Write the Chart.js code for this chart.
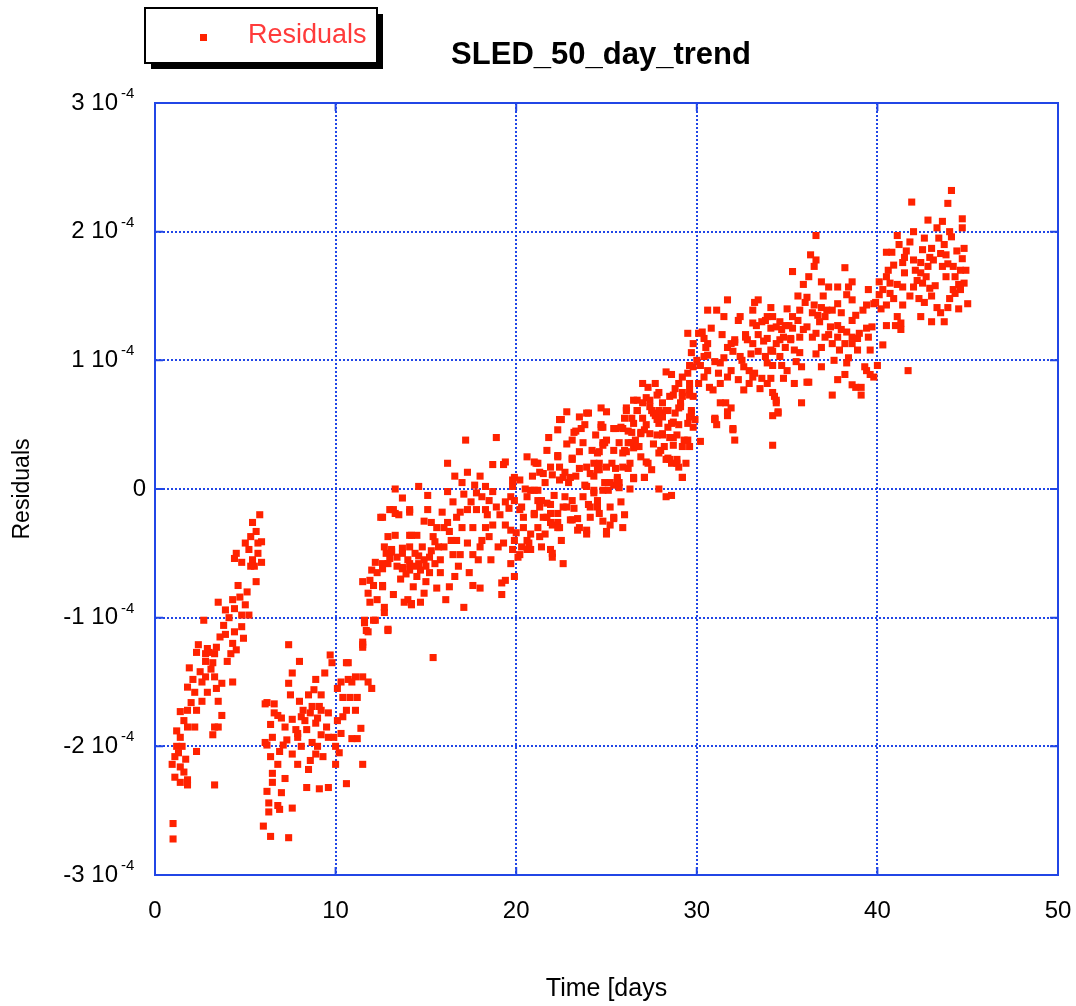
<!DOCTYPE html>
<html>
<head>
<meta charset="utf-8">
<script src="https://cdn.jsdelivr.net/npm/chart.js@4.4.0/dist/chart.umd.min.js"></script>
<style>
body{margin:0;background:#fff}
#wrap{width:1076px;height:1006px;position:relative}
</style>
</head>
<body>
<div id="wrap"><canvas id="mycanvas"></canvas></div>
<script>
// residuals in units of 1e-4, time in days
var dayTicks = [0, 10, 20, 30, 40, 50];
var residualTicks = [-3, -2, -1, 0, 1, 2, 3];
var residualBase = ['-3 10', '-2 10', '-1 10', '0', '1 10', '2 10', '3 10'];
var residualExp = ['-4', '-4', '-4', '', '-4', '-4', '-4'];

var block1 = [
[5.8,-0.2],[5.4,-0.26],[5.6,-0.33],[5.3,-0.37],[5.9,-0.41],[5.0,-0.42],[4.5,-0.5],[4.4,-0.54],[4.8,-0.57],[5.4,-0.55],[5.9,-0.57],[5.5,-0.6],[5.7,-0.5],[5.2,-0.47],[5.6,-0.72],[5.1,-0.8],[4.7,-0.84],[4.3,-0.86],[3.5,-0.88],[3.9,-0.94],[4.4,-0.93],[5.0,-0.9],[5.2,-0.98],[4.8,-0.98],[2.7,-1.02],[3.8,-1.06],[4.8,-1.07],[4.4,-1.11],[3.9,-1.13],[3.6,-1.15],[4.9,-1.16],[4.3,-1.2],[2.4,-1.21],[2.9,-1.24],[3.4,-1.23],[4.5,-1.25],[2.3,-1.27],[2.8,-1.28],[3.3,-1.28],[4.2,-1.28],[3.0,-1.27],[2.8,-1.34],[4.0,-1.34],[1.9,-1.39],[2.5,-1.42],[2.8,-1.46],[3.3,-1.46],[2.6,-1.5],[3.7,-1.51],[4.3,-1.5],[1.8,-1.54],[2.2,-1.58],[2.9,-1.58],[3.4,-1.55],[2.6,-1.65],[3.5,-1.65],[2.0,-1.66],[2.3,-1.72],[1.4,-1.73],[1.8,-1.72],[3.7,-1.76],[1.8,-1.85],[2.2,-1.85],[3.3,-1.85],[3.5,-1.85],[3.2,-1.91],[1.2,-1.88],[1.4,-1.93],[1.2,-2.0],[1.5,-2.0],[2.3,-2.04],[1.3,-2.05],[0.95,-2.14],[1.4,-2.16],[1.6,-2.2],[1.1,-2.24],[1.8,-2.26],[1.4,-2.28],[3.3,-2.3],[1.8,-2.3],[1.0,-2.6],[1.0,-2.72],[3.1,-1.4],[2.1,-1.48],[1.6,-1.8],[1.1,-2.08],[1.7,-2.1],[4.6,-0.75],[4.1,-1.0],[3.2,-1.35],[5.7,-0.42],[5.3,-0.6]
];

var block2 = [
[7.4,-1.21],[8.0,-1.34],[7.6,-1.43],[7.4,-1.51],[6.1,-1.67],[6.6,-1.67],[7.5,-1.6],[8.0,-1.65],[8.7,-1.69],[8.9,-1.48],[9.4,-1.43],[9.7,-1.29],[9.8,-1.35],[9.2,-1.6],[9.1,-1.69],[9.6,-1.74],[6.6,-1.74],[7.0,-1.78],[6.4,-1.83],[7.6,-1.79],[8.1,-1.77],[8.6,-1.74],[7.8,-1.87],[8.4,-1.87],[8.9,-1.82],[9.2,-1.91],[7.9,-1.93],[6.5,-1.93],[6.2,-1.99],[7.1,-1.99],[8.7,-1.97],[9.0,-2.0],[9.6,-1.93],[8.1,-2.0],[7.6,-2.06],[6.9,-2.04],[6.4,-2.08],[6.8,-2.14],[7.9,-2.14],[8.6,-2.11],[8.5,-2.18],[8.9,-2.06],[9.3,-2.08],[10.0,-2.0],[10.2,-2.05],[10.0,-2.14],[6.5,-2.21],[7.2,-2.25],[6.5,-2.28],[6.2,-2.35],[7.0,-2.36],[8.4,-2.32],[9.1,-2.33],[9.6,-2.32],[6.3,-2.44],[6.3,-2.51],[6.9,-2.49],[7.6,-2.48],[10.6,-2.29],[11.5,-2.14],[10.9,-1.94],[11.2,-1.94],[11.4,-1.86],[10.4,-1.77],[10.6,-1.72],[11.1,-1.72],[11.2,-1.62],[10.4,-1.62],[10.7,-1.48],[10.3,-1.5],[10.1,-1.55],[11.1,-1.46],[10.9,-1.5],[11.8,-1.5],[12.0,-1.55],[10.7,-1.35],[11.5,-1.46],[6.0,-2.62],[6.4,-2.7],[7.4,-2.71],[6.8,-2.46],[10.6,-1.35],[8.8,-1.56],[9.2,-1.72],[6.2,-1.66],[6.8,-1.76],[8.2,-1.72],[7.9,-1.9],[9.9,-1.93],[6.1,-1.97],[7.3,-1.95],[8.3,-1.8],[9.5,-1.85],[10.3,-1.9],[10.8,-1.62],[8.5,-1.6],[7.2,-1.85],[9.0,-1.78],[10.1,-1.8]
];

var block3 = [
[11.6,-1.02],[11.7,-1.1],[11.5,-1.21],[12.1,-1.02],[12.9,-1.1],[11.9,-0.88],[12.3,-0.86],[12.7,-0.96],[11.5,-0.72],[11.8,-0.81],[12.1,-0.75],[12.6,-0.75],[12.0,-0.63],[12.3,-0.65],[12.2,-0.57],[12.6,-0.58],[13.0,-0.54],[13.1,-0.47],[13.4,-0.53],[13.7,-0.61],[14.1,-0.58],[14.6,-0.58],[14.9,-0.55],[15.2,-0.53],[15.5,-0.58],[15.8,-0.55],[14.7,-0.63],[15.2,-0.65],[14.1,-0.45],[14.8,-0.45],[14.4,-0.5],[13.7,-0.46],[14.2,-0.36],[14.5,-0.36],[12.9,-0.37],[13.3,-0.36],[12.5,-0.22],[13.2,-0.16],[13.5,-0.2],[14.1,-0.16],[13.7,-0.07],[13.3,0.0],[14.6,0.02],[15.1,-0.16],[15.9,-0.18],[16.2,-0.02],[16.2,0.2],[17.2,0.38],[18.9,0.4],[17.3,0.13],[17.1,-0.04],[15.3,-0.26],[15.4,-0.37],[15.5,-0.41],[16.2,-0.26],[16.3,-0.33],[16.7,-0.22],[17.0,-0.3],[16.7,-0.4],[16.5,-0.51],[16.9,-0.51],[17.6,-0.51],[17.3,-0.42],[17.3,-0.16],[17.8,-0.16],[17.6,-0.3],[18.1,-0.4],[18.0,-0.45],[18.3,-0.3],[18.5,-0.37],[18.7,-0.28],[19.1,-0.2],[19.4,-0.28],[18.9,-0.14],[18.5,-0.09],[18.1,-0.06],[18.3,-0.16],[17.8,-0.03],[17.7,0.03],[18.3,0.02],[18.7,-0.02],[19.4,-0.1],[19.7,-0.06],[19.8,0.02],[19.3,0.19],[18.7,0.19],[19.4,0.21],[19.8,0.07],[15.4,-1.31],[14.0,-0.86],[14.2,-0.89],[14.7,-0.88],[17.1,-0.92],[14.3,-0.76],[14.9,-0.81],[15.6,-0.77],[16.1,-0.86],[16.3,-0.76],[16.6,-0.68],[17.6,-0.75],[18.0,-0.77],[19.2,-0.73],[19.2,-0.82],[19.9,-0.68],[19.7,-0.58],[19.8,-0.47],[19.9,-0.4],[20.0,-0.34],
[12.6,-0.22],[13.0,-0.16],[13.3,-0.19],[14.1,-0.18],[14.1,-0.36],[12.7,-0.45],[13.1,-0.49],[13.7,-0.5],[14.0,-0.55],[12.6,-0.62],[12.9,-0.58],[13.7,-0.62],[14.1,-0.63],[11.9,-0.71],[12.6,-0.76],[12.7,-0.92],[13.8,-0.88],[14.2,-0.9],[12.2,-1.02],[12.9,-1.09],[11.6,-1.04],[11.8,-1.11],[11.5,-1.19],[11.5,-1.23],
[13.6,-0.7],[14.5,-0.68],[13.2,-0.82],[15.0,-0.72],[15.8,-0.65],[16.0,-0.45],[16.8,-0.6],[17.4,-0.65],[18.6,-0.55],[19.0,-0.45],[16.5,-0.1],[15.6,-0.3],[14.9,-0.25],[18.0,0.1],[17.0,0.05],[16.9,-0.18],
[13.9,-0.66],[14.4,-0.6],[15.0,-0.6],[15.3,-0.48],[13.4,-0.6],[12.8,-0.5],[14.6,-0.52],[15.7,-0.45],[16.4,-0.4],[17.9,-0.55],[18.4,-0.2],[19.6,-0.15],[16.0,-0.3],[17.5,-0.1],[15.1,-0.05],[16.6,0.1]
];

var block4 = [
[20.2,0.07],[19.9,0.09],[19.9,-0.09],[20.6,-0.06],[20.8,-0.01],[21.2,-0.01],[20.2,-0.16],[20.4,-0.22],[20.2,-0.51],[20.3,-0.45],[20.8,-0.47],[20.6,-0.4],[20.8,-0.35],[21.2,-0.3],[21.0,-0.19],[21.3,-0.14],[21.7,-0.11],[21.9,-0.19],[21.5,-0.22],[21.2,-0.09],[21.9,-0.26],[21.6,-0.35],[21.9,-0.47],[22.0,-0.53],[22.6,-0.58],[22.4,-0.3],[22.3,-0.19],[22.6,-0.14],[23.0,-0.24],[23.4,-0.32],[23.9,-0.35],[23.4,-0.23],[23.1,-0.09],[23.7,-0.06],[23.9,0.02],[24.3,-0.03],[24.5,-0.09],[24.1,-0.14],[25.2,-0.14],[25.4,-0.23],[25.0,-0.35],[26.0,-0.2],[24.8,-0.01],[25.4,0.03],[25.7,0.05],[25.6,0.09],[25.9,0.17],[26.5,0.09],[27.1,0.09],[26.1,0.29],[26.5,0.32],[26.8,0.33],[25.7,0.36],[25.9,0.47],[25.4,0.47],[26.4,0.44],[26.9,0.43],[27.4,0.43],[28.1,0.43],[28.7,0.4],[27.2,0.21],[28.4,0.24],[28.9,0.23],[29.0,0.17],[29.2,0.09],[28.3,-0.06],[28.6,-0.05],[27.7,0.57],[28.1,0.59],[27.4,0.64],[29.0,0.63],[26.7,0.61],[23.9,0.17],[24.3,0.2],[24.6,0.15],[23.1,0.23],[23.5,0.29],[23.7,0.36],[24.5,0.28],[24.8,0.36],[24.7,0.48],[25.0,0.38],[25.4,0.3],[22.4,0.17],[22.6,0.09],[22.3,0.25],[21.5,0.12],[21.9,0.17],[21.2,0.2],[21.0,0.21],[21.3,0.13],[22.3,0.46],[22.4,0.54],[23.2,0.44],[23.1,0.38],[23.5,0.56],[23.9,0.59],[24.7,0.63],
[24.0,0.59],[22.5,0.54],[23.3,0.45],[24.7,0.5],[25.5,0.47],[26.7,0.69],[27.2,0.71],[27.8,0.73],[28.7,0.73],[29.2,0.75],[27.5,0.61],[28.0,0.59],[28.4,0.61],[29.1,0.64],[29.7,0.59],[27.8,0.54],[28.7,0.52],[26.5,0.51],[26.9,0.44],[28.1,0.42],[29.3,0.38],[29.6,0.33],[28.7,0.34],[26.2,0.36],[26.6,0.38],[26.0,0.3],[28.3,0.23],[28.6,0.2],[26.5,0.08],[25.5,0.16],[24.6,0.2],[24.6,0.29],[24.9,0.36],[22.3,0.26],[23.1,0.24],[21.1,0.2],[22.0,0.11],[22.7,0.13],[23.0,0.09],[22.4,0.07],[23.5,0.16],[24.1,0.12],[24.5,0.15],[23.8,0.03],[24.3,-0.01],[25.1,-0.01],[25.6,0.07],[25.7,0.01],[25.2,0.05],[21.0,-0.01],[21.4,-0.09],[21.9,-0.12],[20.3,-0.14],[21.0,-0.2],[21.7,-0.22],[22.3,-0.26],[22.0,-0.28],[22.3,-0.3],[22.7,-0.06],[22.8,-0.14],[23.1,-0.24],[23.5,-0.3],[24.0,-0.12],[24.5,-0.14],[24.1,-0.22],[23.9,-0.32],[24.6,-0.19],[25.4,-0.22],[25.2,-0.28],[25.0,-0.33],[19.7,-0.32],[20.7,-0.42],[20.6,-0.47],[21.3,-0.37],[22.0,-0.5],[20.1,-0.53],[19.4,-0.71],[19.3,-0.42],
[27.7,0.82],[27.9,0.75],[28.1,0.67],[27.9,0.61],[27.3,0.79],[27.0,0.82],[27.4,0.69],[27.0,0.67],[26.7,0.61],[27.6,0.59],[28.1,0.56],[27.9,0.51],[26.5,0.69],[26.1,0.61],[26.4,0.55],[27.1,0.46],[27.8,0.42],[28.5,0.4],[28.9,0.42],[29.2,0.33],[29.5,0.38],[29.8,0.48],[28.2,0.33],[28.5,0.23],[28.9,0.2],[27.9,0.28],[27.3,0.2],[27.1,0.09],[29.2,0.09],[24.8,0.48],[24.8,0.34],[25.8,0.48],[26.1,0.63],[25.0,0.17],[25.6,0.05],[25.9,0.28],[26.4,0.36],[26.7,0.33],[26.2,0.16],[28.6,0.89],[28.3,0.91],[28.8,0.78],[28.5,0.72],[28.3,0.61],[28.8,0.59],[28.6,0.51],[29.0,0.82],[29.2,0.87],[29.5,0.9],[29.2,0.72],[29.1,0.67],
[20.5,0.0],[21.6,0.05],[22.1,-0.05],[22.9,0.05],[23.3,0.1],[24.2,0.3],[25.3,0.2],[26.3,0.2],[26.9,0.25],[27.6,0.35],[28.4,0.48],[29.0,0.5],[27.0,0.55],[26.2,0.45],[24.4,0.42],[23.6,0.47],[22.8,0.35],[21.7,0.3],[20.9,0.1],[24.9,0.05],
[20.4,-0.3],[21.4,-0.45],[22.5,-0.4],[23.2,-0.15],[24.8,-0.25],[25.8,-0.1],[26.3,0.0],[27.5,0.15],[28.0,0.3],[29.4,0.2],[27.2,0.5],[26.0,0.55],[25.0,0.6],[23.8,0.5],[22.8,0.6],[21.8,0.4],[20.6,0.25],[24.3,0.1],[25.9,-0.3],[27.9,0.0]
];

var block5 = [
[29.6,0.82],[29.6,0.77],[29.8,0.72],[29.7,0.61],[29.6,0.56],[29.9,0.54],[29.5,0.51],[30.2,0.37],[31.0,0.54],[31.1,0.5],[30.6,0.92],[30.4,0.87],[30.2,0.96],[30.4,1.03],[30.6,1.04],[30.6,1.13],[30.4,1.17],[30.1,1.21],[29.5,1.21],[29.8,1.13],[29.7,1.06],[30.0,1.0],[29.8,0.95],[29.6,0.96],[30.1,0.82],[31.7,0.87],[31.9,0.92],[31.3,0.98],[31.0,0.99],[31.5,1.02],[31.7,1.1],[31.9,1.13],[31.3,0.82],[30.9,0.77],[30.7,0.79],[31.6,0.67],[31.9,0.63],[31.7,0.57],[31.0,0.55],[32.0,0.47],[32.1,0.38],[32.4,1.34],[32.7,1.2],[32.8,1.16],[32.1,1.14],[32.0,1.07],[32.4,1.03],[32.6,0.95],[32.9,0.92],[33.2,0.9],[33.1,0.87],[33.6,0.86],[33.5,0.78],[33.9,0.82],[34.2,0.75],[34.3,0.72],[34.4,0.67],[34.2,0.57],[34.5,0.59],[34.2,0.34],[34.1,0.86],[32.9,0.82],[32.6,0.77],[33.2,1.45],[33.4,1.47],[34.1,1.41],[33.1,1.39],[33.1,1.13],[33.4,1.2],[33.3,1.27],[33.6,1.3],[33.1,1.29],[33.9,1.34],[34.1,1.25],[33.9,1.17],[34.4,1.13],[34.2,1.07],[34.6,1.03],[34.7,0.96],[35.0,0.92],[34.8,0.86],[34.2,0.96],[33.9,0.98],[33.8,1.03],[33.4,1.07],[34.6,1.3],[34.2,1.34],[35.3,1.69],[35.9,1.59],[36.1,1.49],[36.0,1.45],[35.7,1.39],[35.6,1.31],[35.3,1.34],[35.1,1.27],[35.3,1.25],[35.9,1.24],[36.1,1.26],[35.7,1.18],[35.2,1.17],[34.7,1.24],[34.6,1.16],[34.9,1.1],[35.4,1.08],[35.7,1.06],[35.8,0.95],[36.2,0.83],[36.4,1.18],[36.9,1.1],[37.5,1.39],[37.8,1.44],[37.3,1.57],[36.3,1.82],[36.6,1.78],[36.5,1.73],[36.6,1.97],[36.9,1.61],[37.1,1.34],[37.2,1.39],[36.9,1.41],[36.5,1.43],[36.4,1.37],[36.8,1.3],[36.6,1.21],[37.1,1.18],[37.5,1.13],[37.9,1.08],[38.4,1.02],[38.9,1.08],[38.3,1.51],[38.6,1.47],[38.4,1.57],[38.2,1.72],[37.8,1.57],[38.0,1.37],[38.6,1.61],[37.8,1.27],[37.4,1.26],[37.8,1.18],[38.6,1.31],[38.6,1.18],[38.3,1.22],[38.0,1.24],[38.2,1.13],[38.6,1.13],[38.9,1.17],[39.0,1.21],[39.4,1.25],[39.7,1.26],[39.5,1.18],[39.6,1.08],[40.0,0.96],[39.4,0.92],[39.6,0.89],[39.1,0.79],[38.8,0.79],[39.1,0.73],[39.8,1.44],[39.4,1.43],[39.2,1.39],[40.1,1.51],[39.9,1.45],[40.5,1.43],[41.4,1.43],[42.4,1.34],[43.0,1.3],[43.7,1.3],[43.5,1.37],[41.1,1.34],[41.3,1.29],[41.0,1.27],[40.5,1.27],[41.3,1.24],[40.3,1.12],[41.7,0.92],[40.1,1.61],[40.7,1.6],[41.1,1.59],[41.4,1.57],[42.0,1.57],[42.5,1.6],[42.9,1.56],[44.5,1.59],[44.6,1.55],[44.3,1.52],[40.3,1.55],[40.7,1.52],[42.3,1.48],[42.6,1.45],[44.0,1.48],[45.0,1.44],[43.3,1.41],[43.9,1.41],[40.5,1.65],[42.1,1.7],[41.5,1.68],[42.4,1.68],[42.7,1.65],[43.8,1.65],[44.3,1.65],[44.6,1.7],[44.9,1.7],[43.6,1.73],[44.2,1.73],[42.8,1.73],[43.1,1.78],[42.4,1.76],[42.0,1.78],[40.9,1.74],[41.4,1.76],[41.5,1.8],[40.5,1.84],[40.8,1.84],[42.5,1.86],[43.0,1.87],[43.5,1.83],[43.8,1.82],[44.8,1.87],[44.7,1.79],[41.8,1.92],[41.1,1.97],[42.0,2.0],[44.0,2.0],[44.1,1.96],[43.4,1.95],[42.8,2.09],[43.6,2.08],[44.7,2.1],[44.7,2.03],[43.3,2.03],[44.1,2.32],[41.9,2.23],[43.9,2.22],
[31.7,1.47],[30.6,1.39],[31.1,1.39],[31.5,1.34],[32.3,1.31],[33.8,1.31],[34.4,1.26],[34.9,1.27],[34.8,1.18],[35.2,1.16],[34.1,1.08],[30.3,1.22],[30.5,1.1],[32.1,1.16],[32.7,1.18],[38.6,0.81],[38.2,0.89],[37.8,0.85],[38.3,0.98],[39.3,0.95],[39.8,0.87],[37.5,0.73],[35.8,0.67],[34.5,0.6],[32.0,0.46],[31.3,0.67],[31.7,0.6],[31.0,0.54],[29.6,0.73],[35.4,0.82],[34.4,0.69],[35.5,0.99],[36.1,0.83],
[40.2,1.4],[41.8,1.5],[42.2,1.62],[43.2,1.58],[43.9,1.75],[44.4,1.85],[42.6,1.95],[41.6,1.85],[40.9,1.48],[43.0,1.5],[44.5,1.4],[36.2,1.65],[37.0,1.5],[37.6,1.0],[36.9,0.95],
[30.8,1.25],[31.4,1.2],[32.5,1.0],[33.0,1.05],[33.7,1.15],[35.0,1.4],[35.6,1.5],[36.7,1.35],[37.3,1.2],[38.8,1.35],[39.5,1.55],[40.6,1.7],[41.2,1.9],[42.9,1.8],[43.7,1.9],[44.2,1.55],[44.8,1.6],[31.2,0.9],[32.3,0.85],[36.6,1.05]
];

var blue = '#2146e6';
var red = '#ff2200';
var fontFam = '"Liberation Sans", Arial, Helvetica, sans-serif';

var points = [];
[block1, block2, block3, block4, block5].forEach(function(b){
	for (var i in b) {
		points.push({x: b[i][0], y: b[i][1]});
	}
});

// frame, inner tick marks, y labels with exponent, legend box and title
var framePlugin = {
	id: 'frame',
	afterDraw: function(chart){
		var ctx = chart.ctx;
		var a = chart.chartArea;
		var xs = chart.scales.x, ys = chart.scales.y;
		ctx.save();
		ctx.strokeStyle = blue;
		ctx.lineWidth = 2;
		ctx.strokeRect(a.left, a.top, a.right - a.left, a.bottom - a.top);
		ctx.beginPath();
		residualTicks.forEach(function(v){
			var py = ys.getPixelForValue(v);
			ctx.moveTo(a.left, py); ctx.lineTo(a.left + 8, py);
			ctx.moveTo(a.right, py); ctx.lineTo(a.right - 8, py);
		});
		dayTicks.forEach(function(v){
			var px = xs.getPixelForValue(v);
			ctx.moveTo(px, a.bottom); ctx.lineTo(px, a.bottom - 8);
			ctx.moveTo(px, a.top); ctx.lineTo(px, a.top + 8);
		});
		ctx.stroke();

		// y tick labels: mantissa, 10 and a raised exponent
		ctx.fillStyle = '#000';
		ctx.textBaseline = 'middle';
		residualTicks.forEach(function(v, i){
			var py = ys.getPixelForValue(v);
			ctx.font = '24px ' + fontFam;
			ctx.textAlign = 'right';
			if (residualExp[i] === '') {
				ctx.fillText(residualBase[i], 146, py);
				return;
			}
			ctx.fillText(residualBase[i], 118, py);
			ctx.font = '15px ' + fontFam;
			ctx.textAlign = 'left';
			ctx.fillText(residualExp[i], 121, py - 9);
		});

		// legend box with shadow
		var bx = 145, by = 8, bw = 232, bh = 55;
		ctx.fillStyle = '#000';
		ctx.fillRect(bx + 6, by + 6, bw, bh);
		ctx.fillStyle = '#fff';
		ctx.fillRect(bx, by, bw, bh);
		ctx.strokeStyle = '#000';
		ctx.lineWidth = 2;
		ctx.strokeRect(bx, by, bw, bh);
		var ds = chart.data.datasets[0];
		ctx.fillStyle = ds.backgroundColor;
		ctx.fillRect(200, 34, 7, 7);
		ctx.fillStyle = '#ff3b3b';
		ctx.font = '27px ' + fontFam;
		ctx.textAlign = 'left';
		ctx.fillText(ds.label, 248, 36);

		// title
		ctx.fillStyle = '#000';
		ctx.font = 'bold 31px ' + fontFam;
		ctx.textAlign = 'center';
		ctx.fillText('SLED_50_day_trend', 601, 55);
		ctx.restore();
	}
};

var ctx = document.getElementById('mycanvas');

var scatter = new Chart(ctx, {
	type: 'scatter',
	data: {
		datasets: [{
			label: 'Residuals',
			data: points,
			backgroundColor: red,
			borderWidth: 0,
			pointStyle: 'rect',
			pointRadius: 5,
			pointHoverRadius: 5
		}]
	},
	options: {
		responsive: true,
		maintainAspectRatio: false,
		animation: false,
		events: [],
		layout: {padding: {top: 103, right: 18, left: 0, bottom: 0}},
		plugins: {
			legend: {display: false},
			title: {display: false},
			tooltip: {enabled: false}
		},
		scales: {
			x: {
				type: 'linear',
				min: 0, max: 50,
				afterFit: function(s){ s.height = 131; s.paddingRight = 0; s.paddingLeft = 0; },
				afterBuildTicks: function(s){ s.ticks = dayTicks.map(function(v){ return {value: v}; }); },
				grid: {color: blue, lineWidth: 2, drawTicks: false},
				border: {display: false, dash: [2, 2]},
				ticks: {
					padding: 22,
					color: '#000',
					font: {size: 24, family: fontFam},
					maxRotation: 0
				},
				title: {
					display: true,
					text: 'Time [days',
					color: '#000',
					font: {size: 25, family: fontFam},
					padding: {top: 0, bottom: 2}
				}
			},
			y: {
				type: 'linear',
				min: -3, max: 3,
				afterFit: function(s){ s.width = 155; s.paddingTop = 0; s.paddingBottom = 0; },
				afterBuildTicks: function(s){ s.ticks = residualTicks.map(function(v){ return {value: v}; }); },
				grid: {color: blue, lineWidth: 2, drawTicks: false},
				border: {display: false, dash: [2, 2]},
				ticks: {
					padding: 15,
					color: 'rgba(0,0,0,0)',
					font: {size: 21, family: fontFam},
					callback: function(v){ return residualBase[residualTicks.indexOf(v)]; }
				},
				title: {
					display: true,
					text: 'Residuals',
					color: '#000',
					font: {size: 23, family: fontFam},
					padding: {top: 9, bottom: 0}
				}
			}
		}
	},
	plugins: [framePlugin]
});
</script>
</body>
</html>
